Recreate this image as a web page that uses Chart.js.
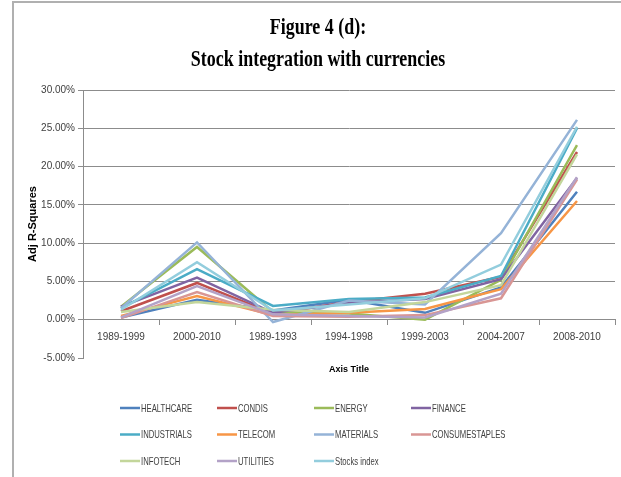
<!DOCTYPE html>
<html>
<head>
<meta charset="utf-8">
<script src="https://cdn.jsdelivr.net/npm/chart.js@4.4.1/dist/chart.umd.min.js"></script>
<style>
	html, body { margin: 0; padding: 0; background: #fff; }
	#wrap { position: relative; width: 621px; height: 477px; overflow: hidden; }
	#frame { position: absolute; left: 12px; top: 1px; right: -2px; bottom: -2px; border-left: 2px solid #b0b0b0; border-top: 2px solid #b0b0b0; }
	.title { position: absolute; left: 0; width: 636px; text-align: center; font-family: "Liberation Serif", "Times New Roman", serif; font-weight: bold; font-size: 23px; color: #000; transform: scaleX(0.78); transform-origin: 318px 0; white-space: nowrap; }
	canvas { position: absolute; left: 0; top: 0; }
</style>
</head>
<body>
<div id="wrap">
	<div id="frame"></div>
	<canvas id="chart" width="621" height="477"></canvas>
	<div class="title" style="top: 14px;">Figure 4 (d):</div>
	<div class="title" style="top: 46px;">Stock integration with currencies</div>
</div>
<script>
	var periods = ['1989-1999', '2000-2010', '1989-1993', '1994-1998', '1999-2003', '2004-2007', '2008-2010'];

	// adjusted R-squared, in percent
	var healthcare     = [0.3, 2.6, 1.2, 2.6, 0.9, 4.2, 16.7];
	var condis         = [1.1, 4.8, 0.8, 2.3, 3.4, 5.6, 21.9];
	var energy         = [1.7, 9.5, 1.0, 0.8, 0.0, 5.2, 22.8];
	var finance        = [1.7, 5.5, 0.9, 2.2, 2.7, 5.3, 18.5];
	var industrials    = [1.5, 6.6, 1.8, 2.7, 2.9, 5.7, 25.0];
	var telecom        = [0.5, 3.1, 0.6, 0.9, 1.4, 4.0, 15.5];
	var materials      = [1.5, 10.1, -0.3, 2.5, 2.0, 11.3, 26.1];
	var consumestaples = [0.2, 3.6, 0.5, 0.4, 0.6, 2.8, 18.3];
	var infotech       = [1.0, 2.3, 1.3, 1.0, 2.3, 4.5, 21.6];
	var utilities      = [0.3, 4.4, 0.7, 0.5, 0.3, 3.4, 18.6];
	var stocksIndex    = [1.3, 7.5, 1.2, 2.0, 2.8, 7.2, 25.2];

	var seriesNames = ['HEALTHCARE', 'CONDIS', 'ENERGY', 'FINANCE', 'INDUSTRIALS', 'TELECOM',
		'MATERIALS', 'CONSUMESTAPLES', 'INFOTECH', 'UTILITIES', 'Stocks index'];
	var seriesValues = [healthcare, condis, energy, finance, industrials, telecom,
		materials, consumestaples, infotech, utilities, stocksIndex];
	var seriesColors = ['#4f81bd', '#c0504d', '#9bbb59', '#8064a2', '#4bacc6', '#f79646',
		'#95b3d7', '#d99694', '#c3d69b', '#b3a2c7', '#93cddd'];

	var sans = '"Liberation Sans", Arial, sans-serif';
	var gridGrey = '#8c8c8c';

	var datasets = seriesNames.map(function(name, i) {
		return {
			label: name,
			data: seriesValues[i],
			borderColor: seriesColors[i],
			backgroundColor: seriesColors[i],
			borderWidth: 2.5,
			pointRadius: 0,
			tension: 0,
			fill: false,
			order: seriesNames.length - i
		};
	});

	// legend laid out as a 4-column grid under the plot, narrow lettering
	var gridLegend = {
		id: 'gridLegend',
		afterDraw: function(chart) {
			var ctx = chart.ctx;
			ctx.save();
			ctx.font = '11px ' + sans;
			ctx.textBaseline = 'middle';
			ctx.textAlign = 'left';
			chart.data.datasets.forEach(function(ds, i) {
				var x = 120 + (i % 4) * 97;
				var y = 408 + Math.floor(i / 4) * 26.5;
				ctx.strokeStyle = ds.borderColor;
				ctx.lineWidth = 2.5;
				ctx.beginPath();
				ctx.moveTo(x, y);
				ctx.lineTo(x + 20, y);
				ctx.stroke();
				ctx.save();
				ctx.translate(x + 21, y + 0.5);
				ctx.scale(0.7, 1);
				ctx.fillStyle = '#404040';
				ctx.fillText(ds.label, 0, 0);
				ctx.restore();
			});
			ctx.restore();
		}
	};

	new Chart(document.getElementById('chart'), {
		type: 'line',
		data: { labels: periods, datasets: datasets },
		plugins: [gridLegend],
		options: {
			responsive: false,
			animation: false,
			devicePixelRatio: 1,
			layout: { padding: { left: 20, right: 6, top: 90, bottom: 119 } },
			plugins: {
				legend: { display: false },
				tooltip: { enabled: false }
			},
			scales: {
				x: {
					position: { y: 0 },
					offset: true,
					grid: {
						drawOnChartArea: false,
						drawTicks: true,
						tickLength: 5,
						offset: true,
						color: gridGrey
					},
					border: { display: true, color: gridGrey, width: 1 },
					ticks: {
						color: '#404040',
						font: { family: sans, size: 10 },
						padding: 7,
						maxRotation: 0,
						autoSkip: false
					},
					title: {
						display: true,
						text: 'Axis Title',
						color: '#000',
						font: { family: sans, size: 9, weight: 'bold' },
						padding: { top: 13 }
					}
				},
				y: {
					min: -5,
					max: 30,
					afterFit: function(scale) { scale.width = 63; },
					grid: {
						color: function(c) { return c.tick && c.tick.value === -5 ? 'rgba(0,0,0,0)' : gridGrey; },
						tickColor: gridGrey,
						tickLength: 5
					},
					border: { display: true, color: gridGrey, width: 1 },
					ticks: {
						stepSize: 5,
						color: '#404040',
						font: { family: sans, size: 10 },
						padding: 3,
						callback: function(v) { return v.toFixed(2) + '%'; }
					},
					title: {
						display: true,
						text: 'Adj R-Squares',
						color: '#000',
						font: { family: sans, size: 11, weight: 'bold' },
						padding: { top: 6, bottom: 0 }
					}
				}
			}
		}
	});
</script>
</body>
</html>
